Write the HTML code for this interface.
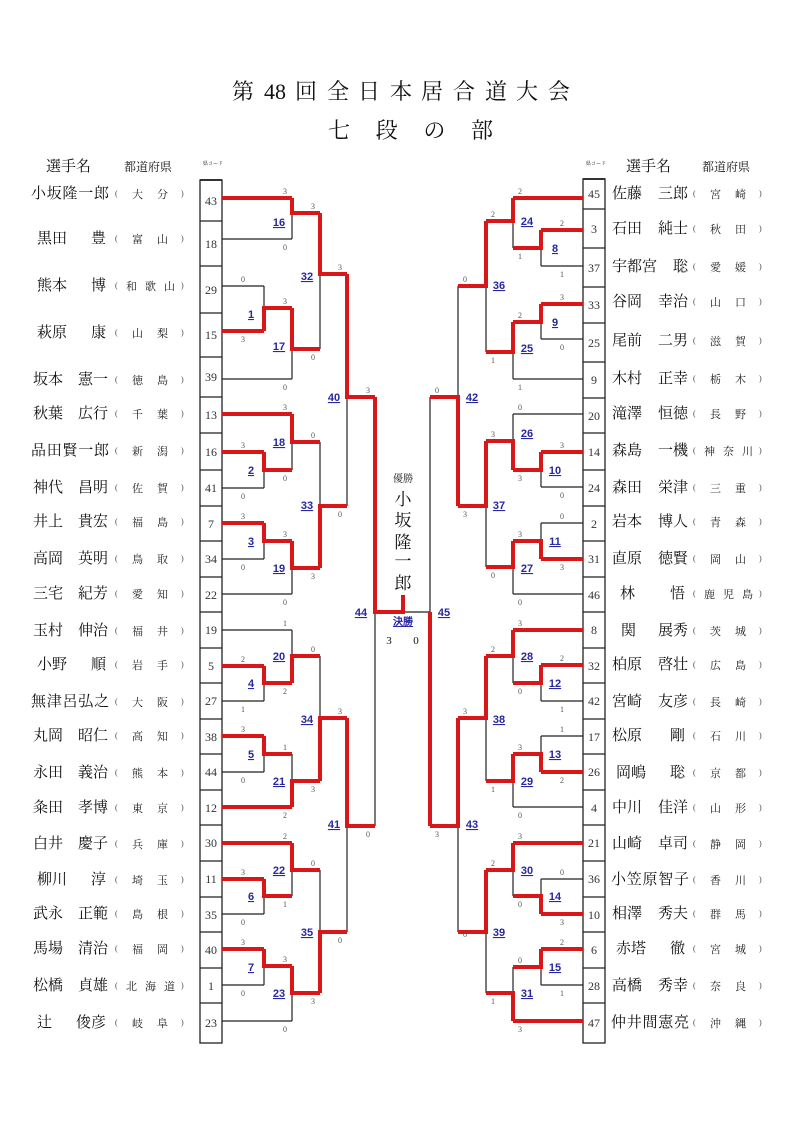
<!DOCTYPE html>
<html><head><meta charset="utf-8"><style>
html,body{margin:0;padding:0;background:#fff}
svg{display:block}
.r{stroke:#d81818;stroke-width:4;fill:none;stroke-linejoin:miter}
.k{stroke:#222;stroke-width:1.2;fill:none}
.s{font-family:"Liberation Serif","Noto Serif CJK JP",serif;font-size:8px;fill:#555;text-anchor:middle}
.m{font-family:"Liberation Sans",sans-serif;font-size:11px;fill:#2828a0;text-anchor:middle;text-decoration:underline;font-weight:bold}
.c{font-family:"Liberation Serif","Noto Serif CJK JP",serif;font-size:12px;fill:#333;text-anchor:middle}
.n{font-family:"Liberation Serif","Noto Serif CJK JP",serif;font-size:15px;fill:#111}
.p{font-family:"Liberation Serif","Noto Serif CJK JP",serif;font-size:11px;fill:#222}
.pp{font-family:"Liberation Serif",serif;font-size:8px;fill:#444}
.t{font-family:"Liberation Serif","Noto Serif CJK JP",serif;fill:#111}
</style></head><body>
<svg width="793" height="1123" viewBox="0 0 793 1123" xmlns="http://www.w3.org/2000/svg">
<!-- titles -->
<text class="t" x="232 264 275 295 327 358 390 421 453 485 516 548" y="99" font-size="22">第48回全日本居合道大会</text>
<text class="t" x="328" y="138" font-size="22" textLength="165" lengthAdjust="spacing">七段の部</text>
<text class="t" x="46" y="171" font-size="15">選手名</text>
<text class="t" x="124" y="171" font-size="12">都道府県</text>
<text class="t" x="203" y="165" font-size="5">県コード</text>
<text class="t" x="586" y="165" font-size="5">県コード</text>
<text class="t" x="626" y="171" font-size="15">選手名</text>
<text class="t" x="702" y="171" font-size="12">都道府県</text>

<!-- code boxes -->
<rect x="200" y="180" width="22" height="863" fill="none" stroke="#222" stroke-width="1.3"/>
<line x1="200" y1="180" x2="222" y2="180" stroke="#333" stroke-width="2"/>
<path class="k" d="M200,221H222M200,266H222M200,313H222M200,357H222M200,397H222M200,433H222M200,470H222M200,506H222M200,541H222M200,577H222M200,612H222M200,648H222M200,683H222M200,719H222M200,754H222M200,790H222M200,825H222M200,861H222M200,897H222M200,932H222M200,968H222M200,1003H222"/>
<rect x="583" y="179" width="22" height="864" fill="none" stroke="#222" stroke-width="1.3"/>
<line x1="583" y1="179" x2="605" y2="179" stroke="#333" stroke-width="2"/>
<path class="k" d="M583,209H605M583,248H605M583,287H605M583,323H605M583,362H605M583,398H605M583,433H605M583,470H605M583,506H605M583,541H605M583,577H605M583,612H605M583,648H605M583,683H605M583,719H605M583,754H605M583,790H605M583,825H605M583,861H605M583,897H605M583,932H605M583,968H605M583,1003H605"/>

<g>
<text class="c" x="211" y="205">43</text><text class="c" x="211" y="248">18</text><text class="c" x="211" y="294">29</text><text class="c" x="211" y="339">15</text><text class="c" x="211" y="381">39</text><text class="c" x="211" y="419">13</text><text class="c" x="211" y="456">16</text><text class="c" x="211" y="492">41</text><text class="c" x="211" y="528">7</text><text class="c" x="211" y="563">34</text><text class="c" x="211" y="599">22</text><text class="c" x="211" y="634">19</text><text class="c" x="211" y="670">5</text><text class="c" x="211" y="705">27</text><text class="c" x="211" y="741">38</text><text class="c" x="211" y="776">44</text><text class="c" x="211" y="812">12</text><text class="c" x="211" y="847">30</text><text class="c" x="211" y="883">11</text><text class="c" x="211" y="919">35</text><text class="c" x="211" y="954">40</text><text class="c" x="211" y="990">1</text><text class="c" x="211" y="1027">23</text>
<text class="c" x="594" y="198">45</text><text class="c" x="594" y="233">3</text><text class="c" x="594" y="272">37</text><text class="c" x="594" y="309">33</text><text class="c" x="594" y="347">25</text><text class="c" x="594" y="384">9</text><text class="c" x="594" y="420">20</text><text class="c" x="594" y="456">14</text><text class="c" x="594" y="492">24</text><text class="c" x="594" y="528">2</text><text class="c" x="594" y="563">31</text><text class="c" x="594" y="599">46</text><text class="c" x="594" y="634">8</text><text class="c" x="594" y="670">32</text><text class="c" x="594" y="705">42</text><text class="c" x="594" y="741">17</text><text class="c" x="594" y="776">26</text><text class="c" x="594" y="812">4</text><text class="c" x="594" y="847">21</text><text class="c" x="594" y="883">36</text><text class="c" x="594" y="919">10</text><text class="c" x="594" y="954">6</text><text class="c" x="594" y="990">28</text><text class="c" x="594" y="1027">47</text>
</g>

<!-- black lines -->
<path class="k" d="
M222,239H292 M222,286H264 M222,379H292 M222,488H264 M222,559H264 M222,594H292 M222,630H292 M222,701H264 M222,772H264 M222,914H264 M222,985H264 M222,1021H292
M264,286V308 M264,488V470 M264,559V541 M264,701V683 M264,772V754 M264,914V896 M264,985V966
M292,239V213 M292,379V349 M292,470V442 M292,594V568 M292,630V656 M292,754V781 M292,896V870 M292,1021V993
M320,349V274 M320,442V506 M320,656V718 M320,870V932
M347,506V397 M347,932V826
M375,826V612 H430 M430,397V612
M583,266H541 M583,339H541 M583,379H513 M583,414H513 M583,487H541 M583,523H541 M583,594H513 M583,701H541 M583,736H541 M583,807H513 M583,879H541 M583,985H541
M541,266V248 M541,339V322 M541,487V470 M541,523V541 M541,701V683 M541,736V754 M541,879V896 M541,985V967
M513,248V221 M513,379V352 M513,414V441 M513,594V567 M513,683V656 M513,807V781 M513,896V870 M513,967V993
M486,352V286 M486,567V506 M486,781V718 M486,993V932
M458,286V397 M458,932V826"/>

<!-- red lines -->
<path class="r" d="
M222,198H292 M222,331H264 M222,414H292 M222,452H264 M222,523H264 M222,666H264 M222,736H264 M222,807H292 M222,843H292 M222,879H264 M222,949H264
M264,331V308H292 M264,452V470H292 M264,523V541H292 M264,666V683H292 M264,736V754H292 M264,879V896H292 M264,949V966H292
M292,198V213H320 M292,308V349H320 M292,414V442H320 M292,541V568H320 M292,683V656H320 M292,807V781H320 M292,843V870H320 M292,966V993H320
M320,213V274H347 M320,568V506H347 M320,781V718H347 M320,993V932H347
M347,274V397H375 M347,718V826H375
M375,397V612H403V595
M583,198H513 M583,230H541 M583,304H541 M583,452H541 M583,559H541 M583,630H513 M583,665H541 M583,772H541 M583,843H513 M583,914H541 M583,949H541 M583,1021H513
M541,230V248H513 M541,304V322H513 M541,452V470H513 M541,559V541H513 M541,665V683H513 M541,772V754H513 M541,914V896H513 M541,949V967H513
M513,198V221H486 M513,322V352H486 M513,470V441H486 M513,541V567H486 M513,630V656H486 M513,754V781H486 M513,843V870H486 M513,1021V993H486
M486,221V286H458 M486,441V506H458 M486,656V718H458 M486,870V932H458
M458,506V397H430 M458,718V826H430
M430,826V612"/>

<!-- scores -->
<g class="s">
<text x="243" y="282">0</text><text x="243" y="342">3</text>
<text x="243" y="448">3</text><text x="243" y="499">0</text>
<text x="243" y="519">3</text><text x="243" y="570">0</text>
<text x="243" y="662">2</text><text x="243" y="712">1</text>
<text x="243" y="732">3</text><text x="243" y="783">0</text>
<text x="243" y="875">3</text><text x="243" y="925">0</text>
<text x="243" y="945">3</text><text x="243" y="996">0</text>
<text x="285" y="194">3</text><text x="285" y="250">0</text>
<text x="285" y="304">3</text><text x="285" y="390">0</text>
<text x="285" y="410">3</text><text x="285" y="481">0</text>
<text x="285" y="537">3</text><text x="285" y="605">0</text>
<text x="285" y="626">1</text><text x="285" y="694">2</text>
<text x="285" y="750">1</text><text x="285" y="818">2</text>
<text x="285" y="839">2</text><text x="285" y="907">1</text>
<text x="285" y="962">3</text><text x="285" y="1032">0</text>
<text x="313" y="209">3</text><text x="313" y="360">0</text>
<text x="313" y="438">0</text><text x="313" y="579">3</text>
<text x="313" y="652">0</text><text x="313" y="792">3</text>
<text x="313" y="866">0</text><text x="313" y="1004">3</text>
<text x="340" y="270">3</text><text x="340" y="517">0</text>
<text x="340" y="714">3</text><text x="340" y="943">0</text>
<text x="368" y="393">3</text><text x="368" y="837">0</text>
<text x="562" y="226">2</text><text x="562" y="277">1</text>
<text x="562" y="300">3</text><text x="562" y="350">0</text>
<text x="562" y="448">3</text><text x="562" y="498">0</text>
<text x="562" y="519">0</text><text x="562" y="570">3</text>
<text x="562" y="661">2</text><text x="562" y="712">1</text>
<text x="562" y="732">1</text><text x="562" y="783">2</text>
<text x="562" y="875">0</text><text x="562" y="925">3</text>
<text x="562" y="945">2</text><text x="562" y="996">1</text>
<text x="520" y="194">2</text><text x="520" y="259">1</text>
<text x="520" y="318">2</text><text x="520" y="390">1</text>
<text x="520" y="410">0</text><text x="520" y="481">3</text>
<text x="520" y="537">3</text><text x="520" y="605">0</text>
<text x="520" y="626">3</text><text x="520" y="694">0</text>
<text x="520" y="750">3</text><text x="520" y="818">0</text>
<text x="520" y="839">3</text><text x="520" y="907">0</text>
<text x="520" y="963">0</text><text x="520" y="1032">3</text>
<text x="493" y="217">2</text><text x="493" y="363">1</text>
<text x="493" y="437">3</text><text x="493" y="578">0</text>
<text x="493" y="652">2</text><text x="493" y="792">1</text>
<text x="493" y="866">2</text><text x="493" y="1004">1</text>
<text x="465" y="282">0</text><text x="465" y="517">3</text>
<text x="465" y="714">3</text><text x="465" y="937">0</text>
<text x="437" y="393">0</text><text x="437" y="837">3</text>
</g>

<!-- match numbers -->
<g class="m">
<text x="251" y="318">1</text><text x="251" y="474">2</text><text x="251" y="545">3</text><text x="251" y="687">4</text><text x="251" y="758">5</text><text x="251" y="900">6</text><text x="251" y="971">7</text>
<text x="279" y="226">16</text><text x="279" y="350">17</text><text x="279" y="446">18</text><text x="279" y="572">19</text><text x="279" y="660">20</text><text x="279" y="785">21</text><text x="279" y="874">22</text><text x="279" y="997">23</text>
<text x="307" y="280">32</text><text x="307" y="509">33</text><text x="307" y="723">34</text><text x="307" y="936">35</text>
<text x="334" y="401">40</text><text x="334" y="828">41</text>
<text x="361" y="616">44</text><text x="444" y="616">45</text>
<text x="555" y="252">8</text><text x="555" y="326">9</text><text x="555" y="474">10</text><text x="555" y="545">11</text><text x="555" y="687">12</text><text x="555" y="758">13</text><text x="555" y="900">14</text><text x="555" y="971">15</text>
<text x="527" y="225">24</text><text x="527" y="352">25</text><text x="527" y="437">26</text><text x="527" y="572">27</text><text x="527" y="660">28</text><text x="527" y="785">29</text><text x="527" y="874">30</text><text x="527" y="997">31</text>
<text x="499" y="289">36</text><text x="499" y="509">37</text><text x="499" y="723">38</text><text x="499" y="936">39</text>
<text x="472" y="401">42</text><text x="472" y="828">43</text>
<text x="403" y="625" font-size="10">決勝</text>
</g>
<text class="t" x="389" y="644" font-size="11" text-anchor="middle">3</text>
<text class="t" x="416" y="644" font-size="11" text-anchor="middle">0</text>
<text class="t" x="403" y="482" font-size="10" text-anchor="middle">優勝</text>
<g class="t" font-size="17" text-anchor="middle">
<text x="403" y="505">小</text><text x="403" y="526">坂</text><text x="403" y="548">隆</text><text x="403" y="567">一</text><text x="403" y="589">郎</text>
</g>

<!-- left names -->
<g class="n">
<text x="31" y="198" textLength="78" lengthAdjust="spacing">小坂隆一郎</text>
<text x="37" y="243">黒田</text><text x="106" y="243" text-anchor="end">豊</text>
<text x="37" y="290">熊本</text><text x="106" y="290" text-anchor="end">博</text>
<text x="37" y="337">萩原</text><text x="106" y="337" text-anchor="end">康</text>
<text x="33" y="384">坂本</text><text x="108" y="384" text-anchor="end">憲一</text>
<text x="33" y="418">秋葉</text><text x="108" y="418" text-anchor="end">広行</text>
<text x="31" y="455" textLength="78" lengthAdjust="spacing">品田賢一郎</text>
<text x="33" y="492">神代</text><text x="108" y="492" text-anchor="end">昌明</text>
<text x="33" y="526">井上</text><text x="108" y="526" text-anchor="end">貴宏</text>
<text x="33" y="563">高岡</text><text x="108" y="563" text-anchor="end">英明</text>
<text x="33" y="598">三宅</text><text x="108" y="598" text-anchor="end">紀芳</text>
<text x="33" y="635">玉村</text><text x="108" y="635" text-anchor="end">伸治</text>
<text x="37" y="669">小野</text><text x="106" y="669" text-anchor="end">順</text>
<text x="31" y="706" textLength="78" lengthAdjust="spacing">無津呂弘之</text>
<text x="33" y="740">丸岡</text><text x="108" y="740" text-anchor="end">昭仁</text>
<text x="33" y="777">永田</text><text x="108" y="777" text-anchor="end">義治</text>
<text x="33" y="812">粂田</text><text x="108" y="812" text-anchor="end">孝博</text>
<text x="33" y="848">白井</text><text x="108" y="848" text-anchor="end">慶子</text>
<text x="37" y="884">柳川</text><text x="106" y="884" text-anchor="end">淳</text>
<text x="33" y="918">武永</text><text x="108" y="918" text-anchor="end">正範</text>
<text x="33" y="953">馬場</text><text x="108" y="953" text-anchor="end">清治</text>
<text x="33" y="990">松橋</text><text x="108" y="990" text-anchor="end">貞雄</text>
<text x="37" y="1027">辻</text><text x="106" y="1027" text-anchor="end">俊彦</text>
</g>
<!-- right names -->
<g class="n">
<text x="612" y="198">佐藤</text><text x="688" y="198" text-anchor="end">三郎</text>
<text x="612" y="233">石田</text><text x="688" y="233" text-anchor="end">純士</text>
<text x="612" y="271">宇都宮</text><text x="688" y="271" text-anchor="end">聡</text>
<text x="612" y="306">谷岡</text><text x="688" y="306" text-anchor="end">幸治</text>
<text x="612" y="345">尾前</text><text x="688" y="345" text-anchor="end">二男</text>
<text x="612" y="383">木村</text><text x="688" y="383" text-anchor="end">正幸</text>
<text x="612" y="418">滝澤</text><text x="688" y="418" text-anchor="end">恒徳</text>
<text x="612" y="455">森島</text><text x="688" y="455" text-anchor="end">一機</text>
<text x="612" y="492">森田</text><text x="688" y="492" text-anchor="end">栄津</text>
<text x="612" y="526">岩本</text><text x="688" y="526" text-anchor="end">博人</text>
<text x="612" y="563">直原</text><text x="688" y="563" text-anchor="end">徳賢</text>
<text x="620" y="598">林</text><text x="685" y="598" text-anchor="end">悟</text>
<text x="621" y="635">関</text><text x="688" y="635" text-anchor="end">展秀</text>
<text x="612" y="669">柏原</text><text x="688" y="669" text-anchor="end">啓壮</text>
<text x="612" y="706">宮崎</text><text x="688" y="706" text-anchor="end">友彦</text>
<text x="612" y="740">松原</text><text x="685" y="740" text-anchor="end">剛</text>
<text x="616" y="777">岡嶋</text><text x="685" y="777" text-anchor="end">聡</text>
<text x="612" y="812">中川</text><text x="688" y="812" text-anchor="end">佳洋</text>
<text x="612" y="848">山崎</text><text x="688" y="848" text-anchor="end">卓司</text>
<text x="611" y="884" textLength="78" lengthAdjust="spacing">小笠原智子</text>
<text x="612" y="918">相澤</text><text x="688" y="918" text-anchor="end">秀夫</text>
<text x="616" y="953">赤塔</text><text x="685" y="953" text-anchor="end">徹</text>
<text x="612" y="990">高橋</text><text x="688" y="990" text-anchor="end">秀幸</text>
<text x="611" y="1027" textLength="78" lengthAdjust="spacing">仲井間憲亮</text>
</g>

<!-- parens -->
<g class="pp">
<text x="115" y="196">(</text><text x="181" y="196">)</text>
<text x="115" y="241">(</text><text x="181" y="241">)</text>
<text x="115" y="288">(</text><text x="181" y="288">)</text>
<text x="115" y="335">(</text><text x="181" y="335">)</text>
<text x="115" y="382">(</text><text x="181" y="382">)</text>
<text x="115" y="416">(</text><text x="181" y="416">)</text>
<text x="115" y="453">(</text><text x="181" y="453">)</text>
<text x="115" y="490">(</text><text x="181" y="490">)</text>
<text x="115" y="524">(</text><text x="181" y="524">)</text>
<text x="115" y="561">(</text><text x="181" y="561">)</text>
<text x="115" y="596">(</text><text x="181" y="596">)</text>
<text x="115" y="633">(</text><text x="181" y="633">)</text>
<text x="115" y="667">(</text><text x="181" y="667">)</text>
<text x="115" y="704">(</text><text x="181" y="704">)</text>
<text x="115" y="738">(</text><text x="181" y="738">)</text>
<text x="115" y="775">(</text><text x="181" y="775">)</text>
<text x="115" y="810">(</text><text x="181" y="810">)</text>
<text x="115" y="846">(</text><text x="181" y="846">)</text>
<text x="115" y="882">(</text><text x="181" y="882">)</text>
<text x="115" y="916">(</text><text x="181" y="916">)</text>
<text x="115" y="951">(</text><text x="181" y="951">)</text>
<text x="115" y="988">(</text><text x="181" y="988">)</text>
<text x="115" y="1025">(</text><text x="181" y="1025">)</text>
</g>
<g class="pp">
<text x="693" y="196">(</text><text x="759" y="196">)</text>
<text x="693" y="231">(</text><text x="759" y="231">)</text>
<text x="693" y="269">(</text><text x="759" y="269">)</text>
<text x="693" y="304">(</text><text x="759" y="304">)</text>
<text x="693" y="343">(</text><text x="759" y="343">)</text>
<text x="693" y="381">(</text><text x="759" y="381">)</text>
<text x="693" y="416">(</text><text x="759" y="416">)</text>
<text x="693" y="453">(</text><text x="759" y="453">)</text>
<text x="693" y="490">(</text><text x="759" y="490">)</text>
<text x="693" y="524">(</text><text x="759" y="524">)</text>
<text x="693" y="561">(</text><text x="759" y="561">)</text>
<text x="693" y="596">(</text><text x="759" y="596">)</text>
<text x="693" y="633">(</text><text x="759" y="633">)</text>
<text x="693" y="667">(</text><text x="759" y="667">)</text>
<text x="693" y="704">(</text><text x="759" y="704">)</text>
<text x="693" y="738">(</text><text x="759" y="738">)</text>
<text x="693" y="775">(</text><text x="759" y="775">)</text>
<text x="693" y="810">(</text><text x="759" y="810">)</text>
<text x="693" y="846">(</text><text x="759" y="846">)</text>
<text x="693" y="882">(</text><text x="759" y="882">)</text>
<text x="693" y="916">(</text><text x="759" y="916">)</text>
<text x="693" y="951">(</text><text x="759" y="951">)</text>
<text x="693" y="988">(</text><text x="759" y="988">)</text>
<text x="693" y="1025">(</text><text x="759" y="1025">)</text>
</g>
<g class="p">
<text x="132" y="198" textLength="36" lengthAdjust="spacing">大分</text>
<text x="132" y="243" textLength="36" lengthAdjust="spacing">富山</text>
<text x="126" y="290" textLength="49" lengthAdjust="spacing">和歌山</text>
<text x="132" y="337" textLength="36" lengthAdjust="spacing">山梨</text>
<text x="132" y="384" textLength="36" lengthAdjust="spacing">徳島</text>
<text x="132" y="418" textLength="36" lengthAdjust="spacing">千葉</text>
<text x="132" y="455" textLength="36" lengthAdjust="spacing">新潟</text>
<text x="132" y="492" textLength="36" lengthAdjust="spacing">佐賀</text>
<text x="132" y="526" textLength="36" lengthAdjust="spacing">福島</text>
<text x="132" y="563" textLength="36" lengthAdjust="spacing">鳥取</text>
<text x="132" y="598" textLength="36" lengthAdjust="spacing">愛知</text>
<text x="132" y="635" textLength="36" lengthAdjust="spacing">福井</text>
<text x="132" y="669" textLength="36" lengthAdjust="spacing">岩手</text>
<text x="132" y="706" textLength="36" lengthAdjust="spacing">大阪</text>
<text x="132" y="740" textLength="36" lengthAdjust="spacing">高知</text>
<text x="132" y="777" textLength="36" lengthAdjust="spacing">熊本</text>
<text x="132" y="812" textLength="36" lengthAdjust="spacing">東京</text>
<text x="132" y="848" textLength="36" lengthAdjust="spacing">兵庫</text>
<text x="132" y="884" textLength="36" lengthAdjust="spacing">埼玉</text>
<text x="132" y="918" textLength="36" lengthAdjust="spacing">島根</text>
<text x="132" y="953" textLength="36" lengthAdjust="spacing">福岡</text>
<text x="126" y="990" textLength="49" lengthAdjust="spacing">北海道</text>
<text x="132" y="1027" textLength="36" lengthAdjust="spacing">岐阜</text>
</g>
<g class="p">
<text x="710" y="198" textLength="36" lengthAdjust="spacing">宮崎</text>
<text x="710" y="233" textLength="36" lengthAdjust="spacing">秋田</text>
<text x="710" y="271" textLength="36" lengthAdjust="spacing">愛媛</text>
<text x="710" y="306" textLength="36" lengthAdjust="spacing">山口</text>
<text x="710" y="345" textLength="36" lengthAdjust="spacing">滋賀</text>
<text x="710" y="383" textLength="36" lengthAdjust="spacing">栃木</text>
<text x="710" y="418" textLength="36" lengthAdjust="spacing">長野</text>
<text x="704" y="455" textLength="49" lengthAdjust="spacing">神奈川</text>
<text x="710" y="492" textLength="36" lengthAdjust="spacing">三重</text>
<text x="710" y="526" textLength="36" lengthAdjust="spacing">青森</text>
<text x="710" y="563" textLength="36" lengthAdjust="spacing">岡山</text>
<text x="704" y="598" textLength="49" lengthAdjust="spacing">鹿児島</text>
<text x="710" y="635" textLength="36" lengthAdjust="spacing">茨城</text>
<text x="710" y="669" textLength="36" lengthAdjust="spacing">広島</text>
<text x="710" y="706" textLength="36" lengthAdjust="spacing">長崎</text>
<text x="710" y="740" textLength="36" lengthAdjust="spacing">石川</text>
<text x="710" y="777" textLength="36" lengthAdjust="spacing">京都</text>
<text x="710" y="812" textLength="36" lengthAdjust="spacing">山形</text>
<text x="710" y="848" textLength="36" lengthAdjust="spacing">静岡</text>
<text x="710" y="884" textLength="36" lengthAdjust="spacing">香川</text>
<text x="710" y="918" textLength="36" lengthAdjust="spacing">群馬</text>
<text x="710" y="953" textLength="36" lengthAdjust="spacing">宮城</text>
<text x="710" y="990" textLength="36" lengthAdjust="spacing">奈良</text>
<text x="710" y="1027" textLength="36" lengthAdjust="spacing">沖縄</text>
</g>
</svg>
</body></html>
